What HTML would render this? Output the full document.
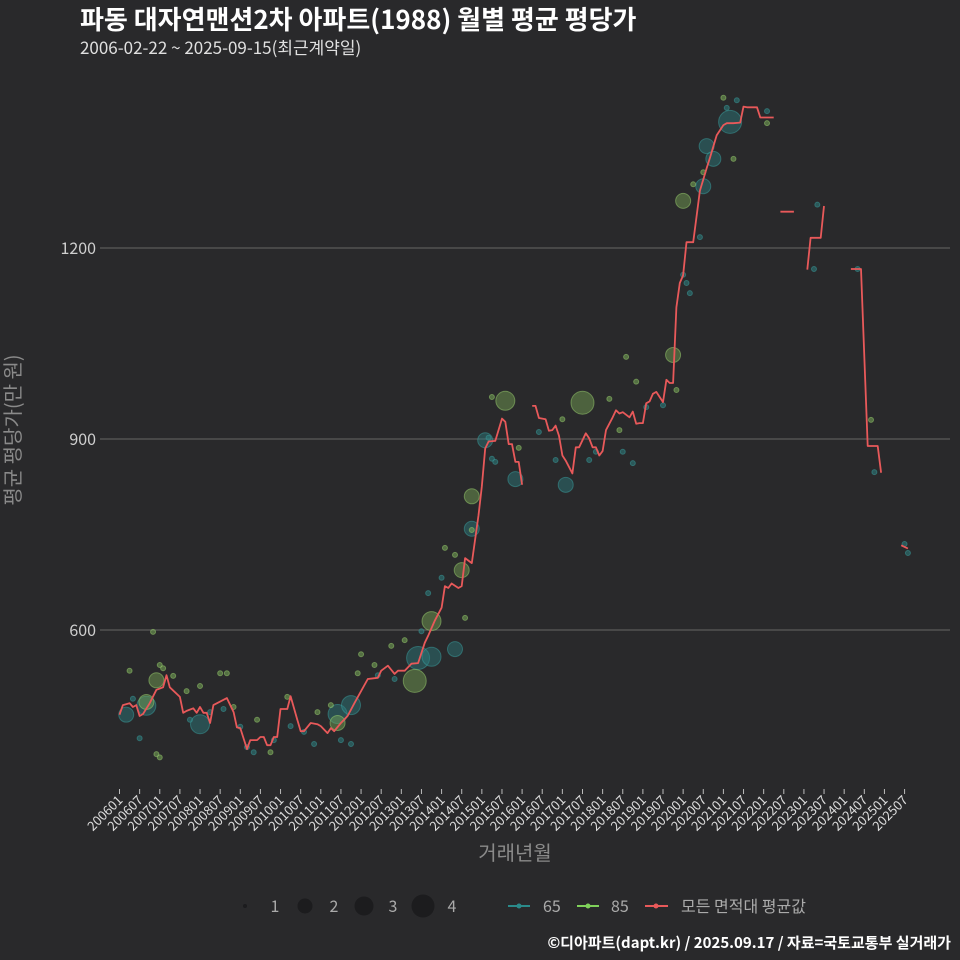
<!DOCTYPE html>
<html><head><meta charset="utf-8"><style>
html,body{margin:0;background:#29292b;width:960px;height:960px;overflow:hidden;}
svg{display:block;}
svg text{font-family:"Noto Sans CJK KR","Liberation Sans",sans-serif;}
</style></head><body>
<svg id="chart" width="960" height="960" xmlns="http://www.w3.org/2000/svg">
<rect width="960" height="960" fill="#29292b"/>
<text x="80" y="29" fill="#ffffff" font-size="26" font-weight="bold">파동 대자연맨션2차 아파트(1988) 월별 평균 평당가</text>
<text x="80" y="54" fill="#e0e0e0" font-size="17">2006-02-22 ~ 2025-09-15(최근계약일)</text>
<g id="grid"></g>
<g id="marks"></g>
<g id="xaxis"></g>
<text transform="translate(20,430) rotate(-90)" text-anchor="middle" fill="#8a8a8a" font-size="20">평균 평당가(만 원)</text>
<text x="515" y="860" text-anchor="middle" fill="#8a8a8a" font-size="20">거래년월</text>
<g font-size="16" fill="#aaaaaa">
<circle cx="245" cy="906" r="2" fill="#1c1c1e"/>
<text x="275" y="912" text-anchor="middle" fill="#aaa">1</text>
<circle cx="305" cy="906" r="7.5" fill="#1c1c1e"/>
<text x="334" y="912" text-anchor="middle" fill="#aaa">2</text>
<circle cx="364" cy="906" r="9.5" fill="#1c1c1e"/>
<text x="393" y="912" text-anchor="middle" fill="#aaa">3</text>
<circle cx="423" cy="906" r="11.5" fill="#1c1c1e"/>
<text x="452" y="912" text-anchor="middle" fill="#aaa">4</text>
</g>
<g font-size="16">
<g><line x1="508" y1="906" x2="530" y2="906" stroke="#2a8a8a" stroke-width="2"/><circle cx="519" cy="906" r="2.5" fill="#2a8a8a"/><text x="543" y="912" fill="#aaa">65</text></g>
<g><line x1="577" y1="906" x2="599" y2="906" stroke="#7fd15a" stroke-width="2"/><circle cx="588" cy="906" r="2.5" fill="#7fd15a"/><text x="611" y="912" fill="#aaa">85</text></g>
<g><line x1="645" y1="906" x2="668" y2="906" stroke="#e8595a" stroke-width="2"/><circle cx="656" cy="906" r="2.5" fill="#e8595a"/><text x="681" y="912" fill="#aaa">모든 면적대 평균값</text></g>
</g>
<text x="951" y="948" text-anchor="end" fill="#ffffff" font-size="15" font-weight="bold">©디아파트(dapt.kr) / 2025.09.17 / 자료=국토교통부 실거래가</text>
</svg>
<script>
const avgMonths = [0,1,3,4,5,6,7,9,11,13,14,15,18,19,20,22,23,24,25,26,27,28,32,34,35,36,38,39,41,42,43,44,45,46,47,48,50,51,53,54,55,57,59,60,62,63,64,66,68,70,72,74,77,78,80,82,83,85,87,89,91,92,94,96,97,98,99,101,102,103,105,107,108,109,110,112,114,115,116,117,118,119,120,121,123,124,125,127,128,129,130,131,132,133,135,136,137,139,140,141,142,143,144,145,147,148,149,150,152,153,154,155,156,157,158,159,160,162,163,164,165,166,167,168,169,171,173,175,176,178,180,181,183,185,186,187,190,191,195,196,197,201,202,205,206,209,210,211,218,221,223,226,227,228,233,235];
const avgValues = [467,482,485,479,482,465,468,485,506,510,529,510,495,470,473,477,470,479,470,470,454,482,493,471,447,446,413,427,427,432,432,419,419,432,432,476,476,496,459,441,441,454,452,449,438,446,441,454,465,485,504,523,525,536,544,531,536,536,547,548,580,591,615,635,669,666,673,666,669,713,705,780,825,885,896,897,932,927,892,892,864,864,828,null,952,952,933,931,913,914,921,905,874,866,846,887,887,909,901,887,887,874,881,914,934,945,940,942,934,943,924,925,925,956,959,971,974,958,993,988,988,1107,1145,1157,1209,1209,1290,1325,1342,1377,1393,1396,1396,1397,1422,1421,1421,1405,1405,null,1257,1257,null,1166,1216,1216,1266,null,1167,1167,889,889,847,null,733,728];
const tealMonths = [2,8,24,65,69,89,93,100,105,109,118,133,175,177,174,182,4,6,21,27,31,36,38,40,46,51,55,58,66,69,77,82,90,92,96,110,111,112,125,130,140,142,150,153,157,162,168,170,169,173,181,184,193,208,207,220,225,235,234];
const tealValues = [467,481,452,468,482,556,558,570,759,898,837,828,1360,1340,1297,1398,492,430,459,471,476,448,416,408,427,449,440,421,427,421,529,523,598,658,682,902,869,864,911,867,867,880,880,862,950,953,1158,1129,1145,1217,1420,1432,1415,1268,1167,1167,848,721,735];
const tealSizes = [2,3,3,3,3,4,3,2,2,2,2,2,2,2,2,4,1,1,1,1,1,1,1,1,1,1,1,1,1,1,1,1,1,1,1,1,1,1,1,1,1,1,1,1,1,1,1,1,1,1,1,1,1,1,1,1,1,1,1];
const greenMonths = [11,8,65,88,93,102,105,115,138,168,165,3,10,11,12,12,13,16,20,24,30,32,34,41,45,50,59,63,71,72,76,81,85,97,100,103,105,111,119,132,146,151,154,149,166,171,174,180,183,193,224];
const greenValues = [521,487,454,520,614,694,810,960,957,1274,1032,536,597,405,400,545,540,528,504,512,532,532,479,459,408,495,471,482,532,562,545,575,584,729,718,619,757,966,886,931,963,1029,990,914,977,1300,1319,1436,1340,1396,930];
const greenSizes = [2,2,2,4,3,2,2,3,4,2,2,1,1,1,1,1,1,1,1,1,1,1,1,1,1,1,1,1,1,1,1,1,1,1,1,1,1,1,1,1,1,1,1,1,1,1,1,1,1,1,1];
const yTicks = [600,900,1200];
const xTickLabels = ["200601","200607","200701","200707","200801","200807","200901","200907","201001","201007","201101","201107","201201","201207","201301","201307","201401","201407","201501","201507","201601","201607","201701","201707","201801","201807","201901","201907","202001","202007","202101","202107","202201","202207","202301","202307","202401","202407","202501","202507"];

const NS="http://www.w3.org/2000/svg";
const xScale = m => 119.5 + m*3.355;
const yScale = v => 630 - (v-600)*0.6367;
const radius = s => [0,2.5,7.5,9.5,11.5][s];
function mk(tag, attrs, parent){const e=document.createElementNS(NS,tag);for(const k in attrs)e.setAttribute(k,attrs[k]);parent.appendChild(e);return e;}
const grid=document.getElementById('grid'), marks=document.getElementById('marks'), xaxis=document.getElementById('xaxis');
yTicks.forEach(t=>{
  const l=mk('line',{x1:100,x2:950,y1:yScale(t),y2:yScale(t),stroke:'#666',"stroke-width":1},grid);
  
  
  const tx=mk('text',{x:96,y:yScale(t)+6,"text-anchor":"end",fill:"#cfcfcf","font-size":16},grid);
  
  
  tx.textContent=t;
});
xTickLabels.forEach((lab,i)=>{
  const m=(+lab.slice(0,4)-2006)*12+(+lab.slice(4)-1);
  const x=xScale(m);
  const tk=mk('line',{x1:x,x2:x,y1:789,y2:794,stroke:'#bbb'},xaxis);
  
  
  const t=mk('text',{transform:`translate(${x+4},${801}) rotate(-45)`,"text-anchor":"end",fill:"#dddddd","font-size":13},xaxis);
  
  
  t.textContent=lab;
});
function drawPts(ms,vs,ss,fill,stroke,name){
  ms.forEach((m,i)=>{
    const c=mk('circle',{cx:xScale(m),cy:yScale(vs[i]),r:radius(ss[i]),fill:fill,"fill-opacity":ss[i]>1?0.45:0.55,stroke:stroke,"stroke-opacity":0.5,"stroke-width":1},marks);
    
    
  });
}
drawPts(tealMonths,tealValues,tealSizes,'#2d7f80','#3aa0a0','point-65');
drawPts(greenMonths,greenValues,greenSizes,'#79a957','#9bd170','point-85');
let d='',pen=false;
avgMonths.forEach((m,i)=>{
  const v=avgValues[i];
  if(v===null){pen=false;return;}
  d+=(pen?'L':'M')+xScale(m).toFixed(1)+','+yScale(v).toFixed(1);
  pen=true;
});
const line=mk('path',{d:d,fill:'none',stroke:'#e8595a',"stroke-width":1.8,"stroke-linejoin":"round"},marks);


</script>
</body></html>
